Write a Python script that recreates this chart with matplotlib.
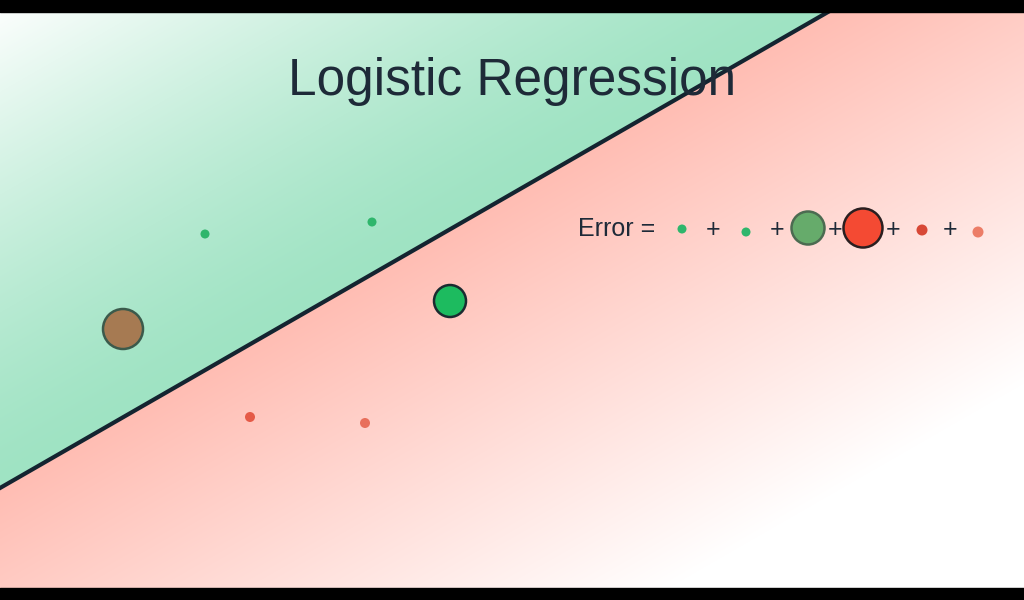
import numpy as np
import matplotlib.pyplot as plt

# Tamaño de la figura en pixeles
W, H = 1024, 600
TOP, BOTTOM = 12, 588  # franjas negras

# Frontera de decision (pixeles)
linea_x = [0, 828]
linea_y = [488, 12]

# Puntos de datos: x, y, radio, relleno, borde
puntos_x = [205, 372, 123, 450, 250, 365]
puntos_y = [234, 222, 329, 301, 417, 423]
puntos_r = [4.5, 4.5, 20, 16, 5, 5]
puntos_color = ['#2fb66c', '#2fb66c', '#a67a52', '#1dbb5f', '#e55a47', '#e86f5b']
puntos_borde = ['none', 'none', '#3b5a4b', '#1b2b30', 'none', 'none']

# Termino del error
err_x = [682, 746, 808, 863, 922, 978]
err_y = [229, 232, 228, 228, 230, 232]
err_r = [4.5, 4.5, 16.5, 19.5, 5.5, 5.5]
err_color = ['#2fb66c', '#2fb66c', '#66ab6b', '#f44a33', '#d84836', '#ec7d67']
err_borde = ['none', 'none', '#4c6b51', '#2a1f20', 'none', 'none']
mas_x = [713, 777, 835, 893, 950]

fig = plt.figure(figsize=(W / 100, H / 100), dpi=100)
ax = fig.add_axes([0, 0, 1, 1])
ax.set_xlim(0, W)
ax.set_ylim(H, 0)
ax.axis('off')

# Fondo con degradado segun distancia a la linea
xx, yy = np.meshgrid(np.arange(W) + 0.5, np.arange(TOP, BOTTOM) + 0.5)
dx, dy = linea_x[1] - linea_x[0], linea_y[1] - linea_y[0]
largo = np.hypot(dx, dy)
d = ((xx - linea_x[0]) * dy - (yy - linea_y[0]) * dx) / largo  # >0 arriba de la linea

verde = np.array([0x9f, 0xe3, 0xc3]) / 255
rojo = np.array([0xff, 0xbd, 0xb3]) / 255
blanco = np.ones(3)

tv = np.clip(d / 425, 0, 1)[..., None] ** 1.35
tr = np.clip(-d / 420, 0, 1)[..., None]
img = np.where((d > 0)[..., None],
               verde * (1 - tv) + blanco * tv,
               rojo * (1 - tr) + blanco * tr)
ax.imshow(img, extent=[0, W, BOTTOM, TOP], aspect='auto', zorder=0, interpolation='bilinear')

# Franjas negras
ax.fill_between([0, W], 0, TOP, color='black', zorder=5)
ax.fill_between([0, W], BOTTOM, H, color='black', zorder=5)

# Linea de frontera extendida
ext = 1.2
lx = [linea_x[0] - dx * ext, linea_x[1] + dx * ext]
ly = [linea_y[0] - dy * ext, linea_y[1] + dy * ext]
ax.plot(lx, ly, color='#142430', lw=3, solid_capstyle='butt', zorder=2)

def circulos(xs, ys, rs, cs, bs):
    for x, y, r, c, b in zip(xs, ys, rs, cs, bs):
        ax.add_patch(plt.Circle((x, y), r, facecolor=c,
                                edgecolor=b, lw=1.8 if b != 'none' else 0, zorder=3))

circulos(puntos_x, puntos_y, puntos_r, puntos_color, puntos_borde)
circulos(err_x, err_y, err_r, err_color, err_borde)

ax.text(512, 82, 'Logistic Regression', ha='center', va='center',
        fontsize=37, color='#1e2a38', family='Liberation Sans', zorder=4)
ax.text(578, 229, 'Error =', ha='left', va='center',
        fontsize=18, color='#1e2a38', family='Liberation Sans', zorder=4)
for mx in mas_x:
    ax.text(mx, 230, '+', ha='center', va='center',
            fontsize=18, color='#1e2a38', family='Liberation Sans', zorder=4)

fig.savefig('out.png', dpi=100)
